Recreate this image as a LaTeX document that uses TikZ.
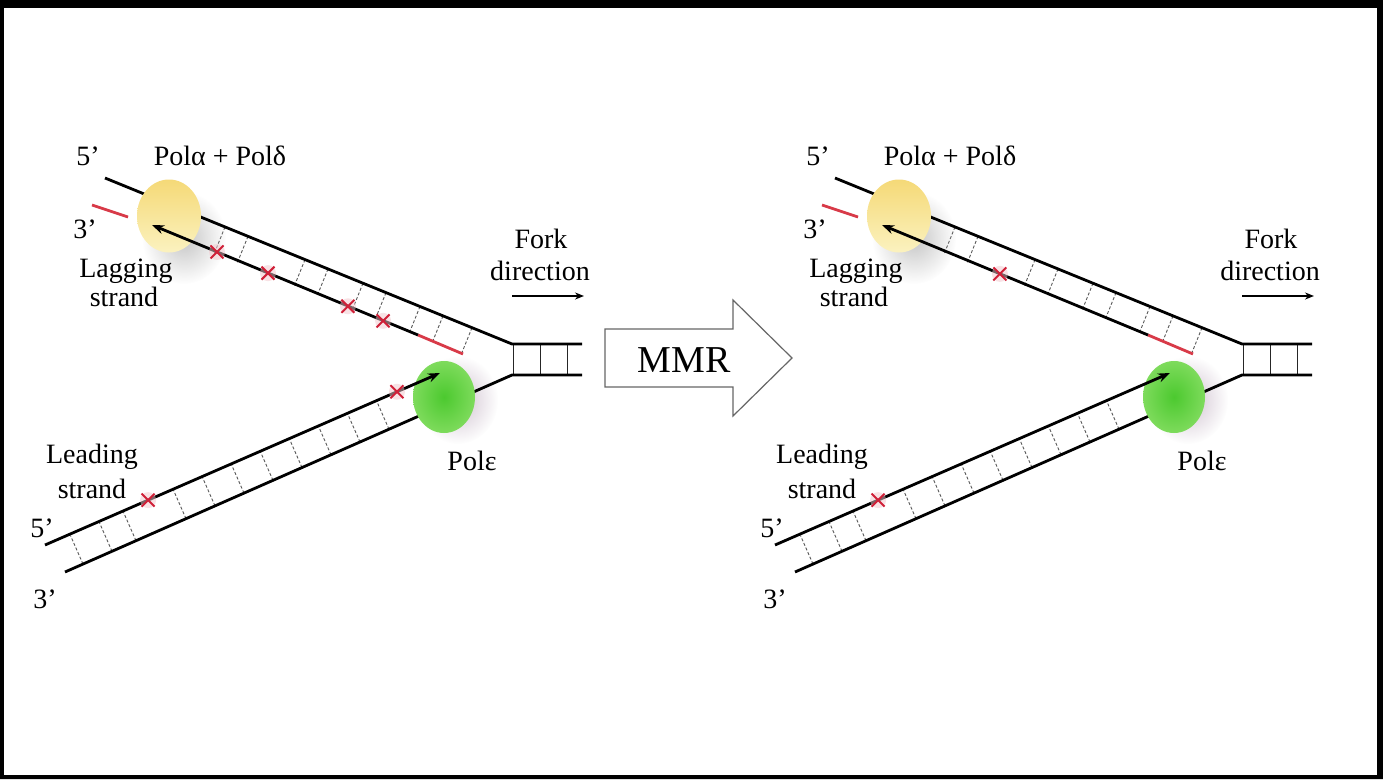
\documentclass[tikz,border=0pt]{standalone}
\usepackage{fontspec}
\setmainfont{Liberation Serif}
\usepackage{tikz}
\usetikzlibrary{shapes.geometric, shapes.misc, arrows.meta, calc, positioning, fadings}

\definecolor{mismatchred}{HTML}{D02038}
\definecolor{primerred}{HTML}{D83A48}
\definecolor{polayellow}{HTML}{F5D977}
\definecolor{polapale}{HTML}{FBF2C0}
\definecolor{poledark}{HTML}{4CC92F}
\definecolor{polelight}{HTML}{7EDB5C}

\tikzfading[name=softedge, inner color=transparent!25, outer color=transparent!100]

\tikzstyle{strand} = [line width=2.8pt, black]
\tikzstyle{primer} = [line width=2.8pt, primerred]
\tikzstyle{daughter} = [strand, -{Stealth[length=12pt, width=9pt]}]
\tikzstyle{rung} = [line width=0.9pt, black!65, dash pattern=on 3pt off 2pt]
\tikzstyle{basepair} = [line width=1pt, black!85]
\tikzstyle{mismatch} = [cross out, draw=mismatchred, line width=2pt, minimum size=11pt, inner sep=0pt]
\tikzstyle{halo} = [fill=mismatchred!25, opacity=.5]
\tikzstyle{lbl} = [font=\fontsize{28}{32}\selectfont, inner sep=0pt, anchor=base]
\tikzstyle{arrow} = [line width=1.8pt, -{Stealth[length=9pt, width=7pt]}]
\tikzstyle{blockarrow} = [draw=black!60, line width=1.2pt, fill=white, line join=miter]
\tikzstyle{polalpha} = [ellipse, minimum width=64pt, minimum height=73pt, inner sep=0pt, top color=polayellow, bottom color=polapale]
\tikzstyle{polepsilon} = [ellipse, minimum width=62pt, minimum height=72pt, inner sep=0pt, inner color=poledark, outer color=polelight]

% one replication fork, drawn in pixel-like units (y grows downwards)
\newcommand{\forkpanel}[1]{%
	\coordinate (#1-lag5) at (105,178);
	\coordinate (#1-fork-t) at (512,344);
	\coordinate (#1-fork-b) at (512,375);
	\coordinate (#1-dup-t) at (582,344);
	\coordinate (#1-dup-b) at (582,375);
	\coordinate (#1-lag-tip) at (152,225);
	\coordinate (#1-lag-rna) at (418,335);
	\coordinate (#1-lag-end) at (463,354);
	\coordinate (#1-rna5) at (92,205);
	\coordinate (#1-rna3) at (128,217);
	\coordinate (#1-lead5) at (45,545);
	\coordinate (#1-lead-tip) at (440,373);
	\coordinate (#1-lead3) at (65,572);
	% base pairs between the strands
	\foreach \x in {220,243,300,323,358,381,415,438,467}
		\draw [rung] ({\x+5},{178+0.4079*(\x-100)}) -- ++(-10.5,26);
	\foreach \x in {77,106,130,180,209,238,267,296,325,354,383}
		\draw [rung] ({\x+6},{572-0.4407*(\x-59)}) -- ++(-12.5,-28.5);
	\foreach \x in {513,540,567}
		\draw [basepair] (\x,345) -- (\x,374);
	% soft shadows of the polymerases
	\fill [black!30, path fading=softedge] (184,238) ellipse (42pt and 46pt);
	\fill [violet!30!gray!50, path fading=softedge] (458,400) ellipse (40pt and 44pt);
	% parental strands and primers
	\draw [strand] (#1-lag5) -- (#1-fork-t) -- (#1-dup-t);
	\draw [strand] (#1-lead3) -- (#1-fork-b) -- (#1-dup-b);
	\draw [primer] (#1-rna5) -- (#1-rna3);
	\draw [primer] (#1-lag-rna) -- (#1-lag-end);
	% polymerases
	\node (#1-pola) [polalpha] at (169,216) {};
	\node (#1-pole) [polepsilon] at (444,397) {};
	% new strands
	\draw [daughter] (#1-lag-rna) -- (#1-lag-tip);
	\draw [daughter] (#1-lead5) -- (#1-lead-tip);
	% labels
	\node (#1-five-lag) [lbl] at (88,165) {5'};
	\node (#1-polname) [lbl] at (220,165) {Polα + Polδ};
	\node (#1-three-lag) [lbl] at (85,238) {3'};
	\node (#1-lagging) [lbl] at (126,277) {Lagging};
	\node (#1-lagging2) [lbl] at (124,306) {strand};
	\node (#1-fork) [lbl] at (541,248) {Fork};
	\node (#1-direction) [lbl] at (540,280) {direction};
	\coordinate (#1-dir-a) at (512,296);
	\coordinate (#1-dir-b) at (584,296);
	\draw [arrow] (#1-dir-a) -- (#1-dir-b);
	\node (#1-leading) [lbl] at (92,463) {Leading};
	\node (#1-leading2) [lbl] at (92,498) {strand};
	\node (#1-five-lead) [lbl] at (42,537) {5'};
	\node (#1-three-lead) [lbl] at (45,608) {3'};
	\node (#1-polename) [lbl] at (472,470) {Polε};
}

% a mismatched base on a strand
\newcommand{\mispair}[2]{%
	\fill [halo] (#2) circle (8pt);
	\node (#1) [mismatch] at (#2) {};
}

\begin{document}
\begin{tikzpicture}[x=1pt, y=-1pt]
	\useasboundingbox (0,0) rectangle (1383,779);
	\fill [black, even odd rule] (0,0) rectangle (1383,779) (4,8) rectangle (1377,775);
	\fill [white] (4,8) rectangle (1377,775);

	% before repair
	\begin{scope}
		\forkpanel{L}
		\mispair{L-mm1}{$(L-lag-tip)!0.209!(L-lag-end)$}
		\mispair{L-mm2}{$(L-lag-tip)!0.373!(L-lag-end)$}
		\mispair{L-mm3}{$(L-lag-tip)!0.630!(L-lag-end)$}
		\mispair{L-mm4}{$(L-lag-tip)!0.743!(L-lag-end)$}
		\mispair{L-mm5}{$(L-lead5)!0.261!(L-lead-tip)$}
		\mispair{L-mm6}{$(L-lead5)!0.891!(L-lead-tip)$}
	\end{scope}

	% repair step
	\draw [blockarrow] (605,329) -- (733,329) -- (733,300) -- (792,358) -- (733,416) -- (733,387) -- (605,387) -- cycle;
	\node (mmr) [font=\fontsize{38}{44}\selectfont, inner sep=0pt, anchor=base] at (684,372) {MMR};

	% after repair
	\begin{scope}[xshift=730pt]
		\forkpanel{R}
		\mispair{R-mm1}{$(R-lag-tip)!0.379!(R-lag-end)$}
		\mispair{R-mm2}{$(R-lead5)!0.261!(R-lead-tip)$}
	\end{scope}
\end{tikzpicture}
\end{document}
